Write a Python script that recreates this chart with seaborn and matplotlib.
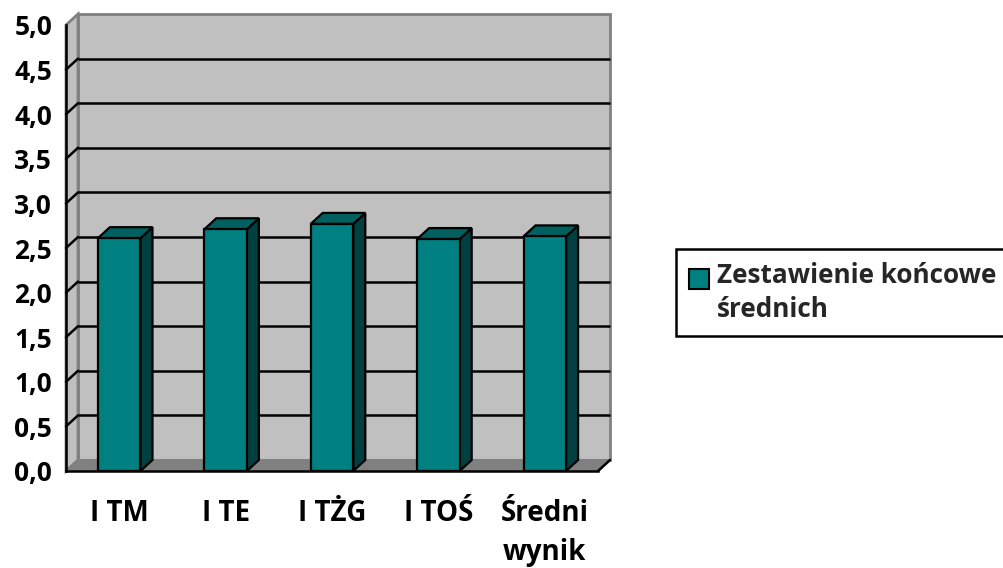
import numpy as np
import matplotlib
matplotlib.use("Agg")
import matplotlib.pyplot as plt
from matplotlib.patches import Polygon, Rectangle, Patch
from matplotlib.legend_handler import HandlerPatch
import seaborn as sns

# ---- data ----
categories = ["I TM", "I TE", "I TŻG", "I TOŚ", "Średni\nwynik"]
values = [2.61, 2.71, 2.77, 2.60, 2.63]
series_name = "Zestawienie końcowe\nśrednich"
y_ticks = [0.0, 0.5, 1.0, 1.5, 2.0, 2.5, 3.0, 3.5, 4.0, 4.5, 5.0]
y_labels = [f"{v:.1f}".replace(".", ",") for v in y_ticks]

sns.set_style("white")
plt.rcParams["font.family"] = ["Open Sans", "DejaVu Sans"]
plt.rcParams["font.weight"] = "bold"

FRONT = "#008080"
SIDE = "#004040"
TOP = "#006060"
WALL = "#c0c0c0"
FLOOR = "#808080"
FS_Y = 19
FS_X = 20
FS_L = 18.8

fig = plt.figure(figsize=(10.04, 5.68), dpi=100)
W, H = 1004, 568
ax = fig.add_axes([66 / W, 97 / H, 532 / W, 446 / H])

sns.barplot(x=categories, y=values, color=FRONT, saturation=1, width=0.4,
            edgecolor="black", linewidth=1.6, ax=ax, zorder=4)
ax.set_xlim(-0.5, 4.5)
ax.set_ylim(0, 5)

# depth offset (pixels -> data units)
px_x = ax.bbox.width / 5.0
px_y = ax.bbox.height / 5.0
DX = 12 / px_x
DY = 11 / px_y
x0, x1 = -0.5, 4.5
ymax = 5.0

# back wall
ax.add_patch(Rectangle((x0 + DX, DY), x1 - x0, ymax, fc=WALL, ec=FLOOR, lw=2,
                       clip_on=False, zorder=0))
# side wall
ax.add_patch(Polygon([(x0, 0), (x0, ymax), (x0 + DX, ymax + DY), (x0 + DX, DY)],
                     closed=True, fc=WALL, ec=FLOOR, lw=2, clip_on=False, zorder=0.5))
# gridlines on back wall and side wall
for yv in y_ticks[1:-1]:
    ax.plot([x0 + DX, x1 + DX], [yv + DY, yv + DY], color="black", lw=1.8,
            clip_on=False, zorder=1, solid_capstyle="butt")
    ax.plot([x0, x0 + DX], [yv, yv + DY], color="black", lw=1.8,
            clip_on=False, zorder=1)
# floor
ax.add_patch(Polygon([(x0, 0), (x1, 0), (x1 + DX, DY), (x0 + DX, DY)],
                     closed=True, fc=FLOOR, ec=FLOOR, lw=1.5, clip_on=False, zorder=1.5))
ax.plot([x1, x1 + DX], [0, DY], color="black", lw=1.8, clip_on=False, zorder=2)

# 3D faces of bars, derived from the drawn bar patches
for p in list(ax.patches):
    if p.get_zorder() != 4:
        continue
    bx, by = p.get_x(), p.get_y()
    bw, bh = p.get_width(), p.get_height()
    if bh <= 0:
        continue
    side = Polygon([(bx + bw, by), (bx + bw, by + bh), (bx + bw + DX, by + bh + DY),
                    (bx + bw + DX, by + DY)], closed=True, fc=SIDE, ec="black",
                   lw=1.6, clip_on=False, zorder=3.5)
    top = Polygon([(bx, by + bh), (bx + bw, by + bh), (bx + bw + DX, by + bh + DY),
                   (bx + DX, by + bh + DY)], closed=True, fc=TOP, ec="black",
                  lw=1.6, clip_on=False, zorder=3.5)
    ax.add_patch(side)
    ax.add_patch(top)

ax.patch.set_visible(False)
for s in ["top", "right"]:
    ax.spines[s].set_visible(False)
for s in ["left", "bottom"]:
    ax.spines[s].set_color("black")
    ax.spines[s].set_linewidth(1.8)
    ax.spines[s].set_zorder(5)

ax.set_yticks(y_ticks)
ax.set_yticklabels(y_labels, fontsize=FS_Y, fontweight="bold")
ax.tick_params(axis="y", direction="out", length=7, width=1.8, pad=3, colors="black")

ax.set_xticks(np.arange(-0.5, 5.0, 1.0))
ax.set_xticklabels([""] * 6)
ax.set_xticks(range(len(categories)), minor=True)
ax.set_xticklabels(categories, minor=True, fontsize=FS_X, fontweight="bold",
                   va="top", linespacing=1.45)
ax.tick_params(axis="x", which="major", direction="out", length=8, width=1.8, colors="black")
ax.tick_params(axis="x", which="minor", length=0, pad=20, colors="black")
ax.set_xlabel("")
ax.set_ylabel("")


def top_aligned_patch(legend, orig_handle, xdescent, ydescent, width, height, fontsize):
    shift = 0.58 * fontsize
    return Rectangle((-xdescent, -ydescent + shift), width, height)


handle = Patch(fc=FRONT, ec="black", lw=1.5)
leg = fig.legend([handle], [series_name], loc="upper left",
                 bbox_to_anchor=(676 / W, (H - 249) / H), frameon=True,
                 fancybox=False, edgecolor="black", framealpha=1,
                 prop={"size": FS_L, "weight": "bold"}, handlelength=0.78,
                 handleheight=0.78, handletextpad=0.3, borderpad=0.5,
                 borderaxespad=0, labelspacing=0.2,
                 handler_map={Patch: HandlerPatch(patch_func=top_aligned_patch)})
leg.get_frame().set_linewidth(1.8)
for t in leg.get_texts():
    t.set_linespacing(1.35)

fig.savefig("out.png", dpi=100)
